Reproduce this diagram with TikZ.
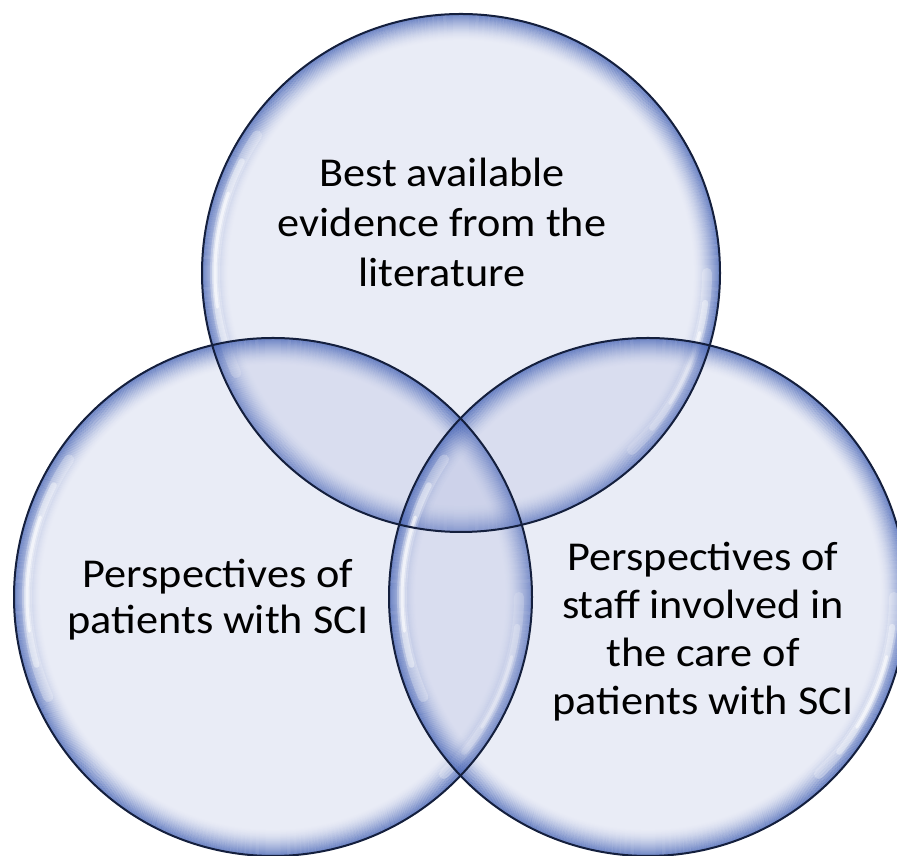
\documentclass[tikz,border=0pt]{standalone}
\usepackage{fontspec}
\setmainfont{Carlito}[FakeStretch=1.08]
\definecolor{bodyC}{rgb}{0.66,0.70,0.86}
\definecolor{rimC}{rgb}{0.27,0.39,0.71}
\definecolor{lineC}{rgb}{0.08,0.12,0.24}
\tikzset{
  labeltext/.style={font=\fontsize{41}{48}\selectfont, align=center, text=black, inner sep=0pt, anchor=base},
  bodyfill/.style={fill=bodyC, fill opacity=0.25},
  rimring/.style={draw=rimC, line width=1.25pt},
  outline/.style={draw=lineC, line width=2pt},
  shine/.style={draw=white, line cap=round},
}
\begin{document}
\begin{tikzpicture}[x=1pt,y=1pt]
\useasboundingbox (0,0) rectangle (897,856);
\clip (0,0) rectangle (897,856);
\coordinate (ct) at (461,583);
\coordinate (cl) at (273,259);
\coordinate (cr) at (648,259);
\foreach \c in {ct,cl,cr} {
  \fill[bodyfill] (\c) circle[radius=259];
  \foreach \k in {0,...,26} {
    \pgfmathsetmacro\op{0.68*((27-\k)/27)^1.8}
    \pgfmathsetmacro\rr{258.5-\k}
    \draw[rimring, draw opacity=\op] (\c) circle[radius=\rr];
  }
  \draw[shine, line width=10pt, draw opacity=0.25] (\c) ++(146:246) arc[start angle=146, end angle=204, radius=246];
  \draw[shine, line width=6pt, draw opacity=0.4] (\c) ++(153:246) arc[start angle=153, end angle=196, radius=246];
  \draw[shine, line width=3pt, draw opacity=0.6] (\c) ++(161:246) arc[start angle=161, end angle=188, radius=246];
  \draw[shine, line width=10pt, draw opacity=0.25] (\c) ++(0:246) arc[start angle=0, end angle=-46, radius=246];
  \draw[shine, line width=6pt, draw opacity=0.4] (\c) ++(-7:246) arc[start angle=-7, end angle=-39, radius=246];
  \draw[shine, line width=3pt, draw opacity=0.6] (\c) ++(-14:246) arc[start angle=-14, end angle=-32, radius=246];
}
\foreach \c in {ct,cl,cr} {
  \draw[outline] (\c) circle[radius=259];
}
\node[labeltext, font=\fontsize{41}{50}\selectfont] (top) at (442,569) {Best available\\evidence from the\\literature};
\node[labeltext, font=\fontsize{41}{46}\selectfont] (left) at (218,222) {Perspectives of\\patients with SCI};
\node[labeltext] (right) at (703,141) {Perspectives of\\staff involved in\\the care of\\patients with SCI};
\end{tikzpicture}
\end{document}
